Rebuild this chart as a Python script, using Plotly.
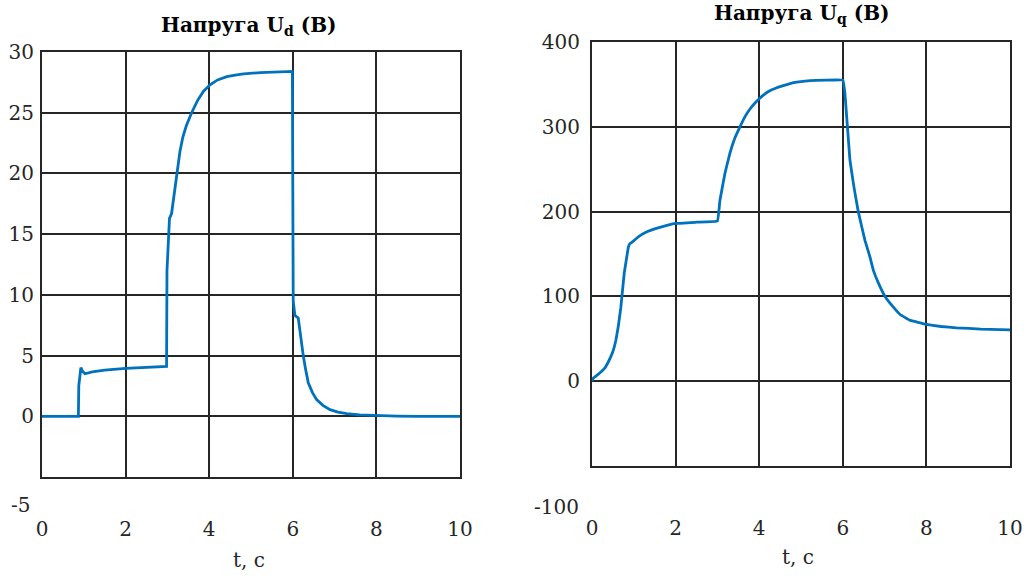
import plotly.graph_objects as go

# ---- data: U_d (left panel) ----
t_d = [0, 0.87, 0.88, 0.93, 0.97, 1.03, 1.2, 1.5, 2.0, 2.5, 2.98, 2.99, 3.05, 3.1, 3.18,
       3.24, 3.3, 3.37, 3.45, 3.58, 3.72, 3.86, 4.02, 4.2, 4.42, 4.62, 4.82, 5.22, 5.6, 5.99, 6.01,
       6.05, 6.13, 6.19, 6.25, 6.31, 6.37, 6.47, 6.57, 6.72, 6.89, 7.08, 7.29, 7.6, 8.0,
       8.5, 9.0, 10.0]
u_d = [0, 0, 2.5, 4.0, 3.7, 3.5, 3.65, 3.8, 3.95, 4.05, 4.1, 12, 16.3, 16.7, 18.8,
       20.5, 21.8, 23.0, 23.9, 25.0, 26.0, 26.75, 27.3, 27.7, 27.97, 28.1, 28.2, 28.3, 28.35, 28.4, 9.5,
       8.3, 8.1, 6.5, 5.0, 3.8, 2.75, 1.95, 1.37, 0.9, 0.55, 0.35, 0.22, 0.12, 0.05,
       0.02, 0.0, 0.0]

# ---- data: U_q (right panel) ----
t_q = [0, 0.02, 0.17, 0.3, 0.41, 0.5, 0.57, 0.63, 0.69, 0.77, 0.87, 0.9, 0.96, 1.1, 1.29,
       1.6, 2.0, 2.5, 3.0, 3.06, 3.18, 3.3, 3.42, 3.54, 3.66, 3.78, 3.9, 4.02, 4.2, 4.42, 4.82,
       5.22, 5.6, 6.0, 6.05, 6.17, 6.27, 6.37, 6.53, 6.65, 6.73, 6.85, 7.01, 7.2, 7.37,
       7.6, 8.0, 8.35, 8.72, 9.3, 10]
u_q = [0, 3, 9, 15, 24.7, 35, 48, 65, 87, 127, 158, 162, 164, 170, 175.6,
       181, 186, 187.5, 188.8, 213, 245, 269, 287, 300, 312, 321, 328, 334, 341, 346, 352,
       354.5, 355, 355, 340, 261, 228, 200, 166, 146.5, 131, 116, 100, 88, 78.7,
       72, 67, 64.5, 63, 61.5, 60.6]

x_ticks = [0, 2, 4, 6, 8, 10]
yd_ticks = [0, 5, 10, 15, 20, 25, 30]
yq_ticks = [0, 100, 200, 300, 400]

W, H = 1032, 578
LINE = "#0072BD"
DARK = "#262626"
FONT = "DejaVu Serif"
FS = 20

fig = go.Figure()
fig.add_trace(go.Scatter(x=t_d, y=u_d, mode="lines", line=dict(color=LINE, width=2.8),
                         xaxis="x", yaxis="y", showlegend=False))
fig.add_trace(go.Scatter(x=t_q, y=u_q, mode="lines", line=dict(color=LINE, width=2.8, shape="spline", smoothing=0.2),
                         xaxis="x2", yaxis="y2", showlegend=False))

def px(x):
    return x / W

def py(y):
    return 1 - y / H

ax_common = dict(showline=True, mirror=True, linecolor=DARK, linewidth=2,
                 showgrid=True, gridcolor=DARK, gridwidth=2, zeroline=False,
                 automargin=False,
                 ticks="", tickfont=dict(family=FONT, size=FS, color=DARK))

fig.update_layout(
    width=W, height=H,
    font=dict(family=FONT),
    margin=dict(l=0, r=0, t=0, b=0),
    paper_bgcolor="white", plot_bgcolor="white",
    xaxis=dict(domain=[px(42), px(460)], range=[0, 10], tickvals=x_ticks,
               anchor="y", ticklabelstandoff=33, **ax_common),
    yaxis=dict(domain=[py(477), py(52)], range=[-5, 30], tickvals=yd_ticks,
               anchor="x", ticklabelstandoff=2, **ax_common),
    xaxis2=dict(domain=[px(592), px(1010)], range=[0, 10], tickvals=x_ticks,
                anchor="y2", ticklabelstandoff=43, **ax_common),
    yaxis2=dict(domain=[py(466), py(42)], range=[-100, 400], tickvals=yq_ticks,
                anchor="x2", ticklabelstandoff=6, **ax_common),
)

ann_font = dict(family=FONT, size=FS, color=DARK)
title_font = dict(family=FONT, size=20, color="black")
fig.add_annotation(text="<b>Напруга U<sub>d</sub> (B)</b>", x=px(249), y=py(11),
                   xref="paper", yref="paper", xanchor="center", yanchor="top",
                   showarrow=False, font=title_font)
fig.add_annotation(text="<b>Напруга U<sub>q</sub> (B)</b>", x=px(802), y=py(-1),
                   xref="paper", yref="paper", xanchor="center", yanchor="top",
                   showarrow=False, font=title_font)
fig.add_annotation(text="-5", x=px(32), y=py(505), xref="paper", yref="paper",
                   xanchor="right", yanchor="middle", showarrow=False, font=ann_font)
fig.add_annotation(text="-100", x=px(581), y=py(507), xref="paper", yref="paper",
                   xanchor="right", yanchor="middle", showarrow=False, font=ann_font)
fig.add_annotation(text="t, c", x=px(249), y=py(560), xref="paper", yref="paper",
                   xanchor="center", yanchor="middle", showarrow=False, font=ann_font)
fig.add_annotation(text="t, c", x=px(798), y=py(557), xref="paper", yref="paper",
                   xanchor="center", yanchor="middle", showarrow=False, font=ann_font)

fig.write_html("out.html")
